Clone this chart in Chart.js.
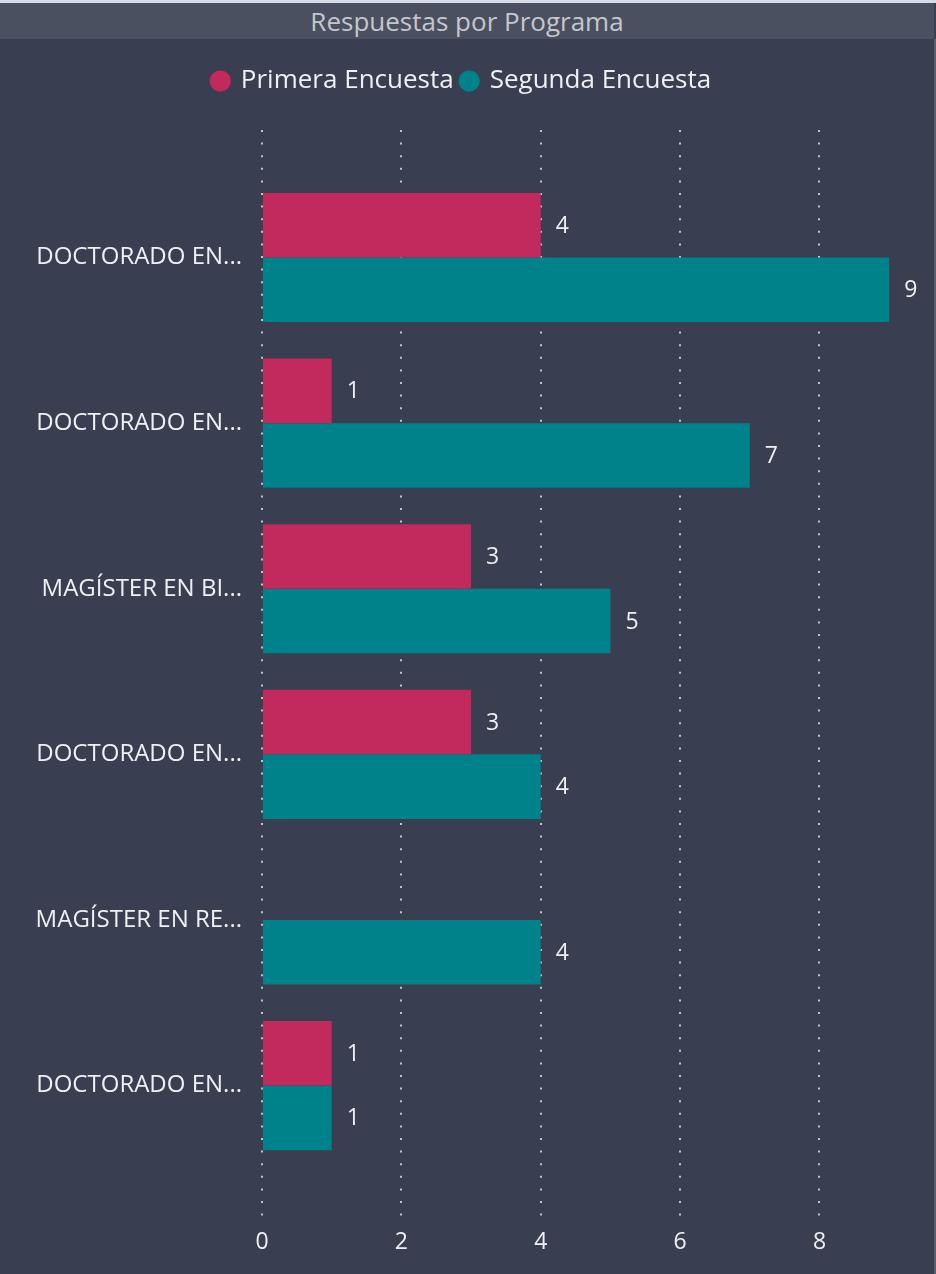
<!DOCTYPE html>
<html>
<head>
<meta charset="utf-8">
<script src="https://cdn.jsdelivr.net/npm/chart.js@4"></script>
<style>
  html, body { margin: 0; padding: 0; }
  body {
    width: 936px; height: 1274px; overflow: hidden;
    background: #393e50; position: relative;
    font-family: "Open Sans", "Noto Sans", sans-serif;
  }
  #topline { position: absolute; left: 0; top: 0; width: 936px; height: 3px; background: #d6dbe8; }
  #title {
    position: absolute; left: 0; top: 3px; width: 934px; height: 36px;
    background: #4a5060; color: #c4c7cd;
    font-size: 26px; line-height: 36px; text-align: center;
  }
  #rightline { position: absolute; left: 934px; top: 39px; width: 2px; height: 1235px; background: #5a6070; }
  #wrap { position: absolute; left: 0; top: 39px; width: 934px; height: 1235px; }
</style>
</head>
<body>
<div id="topline"></div>
<div id="title">Respuestas por Programa</div>
<div id="rightline"></div>
<div id="wrap"><canvas id="chart"></canvas></div>
<script>
// datos
const categories = ['DOCTORADO EN...', 'DOCTORADO EN...', 'MAGÍSTER EN BI...', 'DOCTORADO EN...', 'MAGÍSTER EN RE...', 'DOCTORADO EN...']
const primera = [4, 1, 3, 3, null, 1]
const segunda = [9, 7, 5, 4, 4, 1]
const xTicks = [0, 2, 4, 6, 8]

const PINK = '#c2295c'
const TEAL = '#00828a'
const TEXT = '#eef0f4'
const FONT = '"Open Sans", "Noto Sans", sans-serif'

// cada categoria en su indice (eje y lineal para dejar margen arriba y abajo)
const toPoints = vals => vals.map((v, i) => ({ x: v, y: i }))

// etiquetas de valor a la derecha de cada barra
const valueLabels = {
  id: 'valueLabels',
  afterDatasetsDraw(chart) {
    const ctx = chart.ctx
    ctx.save()
    ctx.font = '23px ' + FONT
    ctx.fillStyle = TEXT
    ctx.textAlign = 'left'
    ctx.textBaseline = 'middle'
    chart.data.datasets.forEach((ds, di) => {
      chart.getDatasetMeta(di).data.forEach((bar, i) => {
        const v = ds.data[i].x
        if (v == null) return
        ctx.fillText(String(v), bar.x + 15, bar.y + 1)
      })
    })
    ctx.restore()
  }
}

// espacio extra entre la leyenda y el area del grafico
const legendGap = {
  id: 'legendGap',
  beforeInit(chart) {
    const fit = chart.legend.fit
    chart.legend.fit = function () {
      fit.call(this)
      this.height += 26
    }
  }
}

new Chart(document.getElementById('chart'), {
  type: 'bar',
  data: {
    datasets: [
      { label: 'Primera Encuesta', data: toPoints(primera), backgroundColor: PINK },
      { label: 'Segunda Encuesta', data: toPoints(segunda), backgroundColor: TEAL }
    ]
  },
  options: {
    indexAxis: 'y',
    responsive: true,
    maintainAspectRatio: false,
    animation: false,
    layout: { padding: { top: 21, right: 10, bottom: 6, left: 0 } },
    datasets: { bar: { categoryPercentage: 0.78, barPercentage: 1 } },
    plugins: {
      legend: {
        position: 'top',
        labels: {
          usePointStyle: true,
          pointStyle: 'circle',
          boxWidth: 15,
          boxHeight: 15,
          padding: 8,
          color: TEXT,
          font: { family: FONT, size: 26 }
        }
      },
      tooltip: { enabled: false }
    },
    scales: {
      x: {
        type: 'linear',
        min: 0,
        max: 9.5,
        afterBuildTicks: s => { s.ticks = xTicks.map(v => ({ value: v })) },
        border: { display: false, dash: [2, 10.6] },
        grid: { color: '#c0c4cc', lineWidth: 2, drawTicks: false },
        ticks: { color: TEXT, padding: 12, font: { family: FONT, size: 23 } }
      },
      y: {
        type: 'linear',
        reverse: true,
        offset: false,
        min: -0.77,
        max: 5.79,
        afterBuildTicks: s => { s.ticks = categories.map((c, i) => ({ value: i })) },
        afterFit: s => { s.width = 262 },
        border: { display: false },
        grid: { display: false, drawTicks: false },
        ticks: {
          color: TEXT,
          padding: 20,
          callback: v => categories[v],
          font: { family: FONT, size: 24 }
        }
      }
    }
  },
  plugins: [valueLabels, legendGap]
})
</script>
</body>
</html>
